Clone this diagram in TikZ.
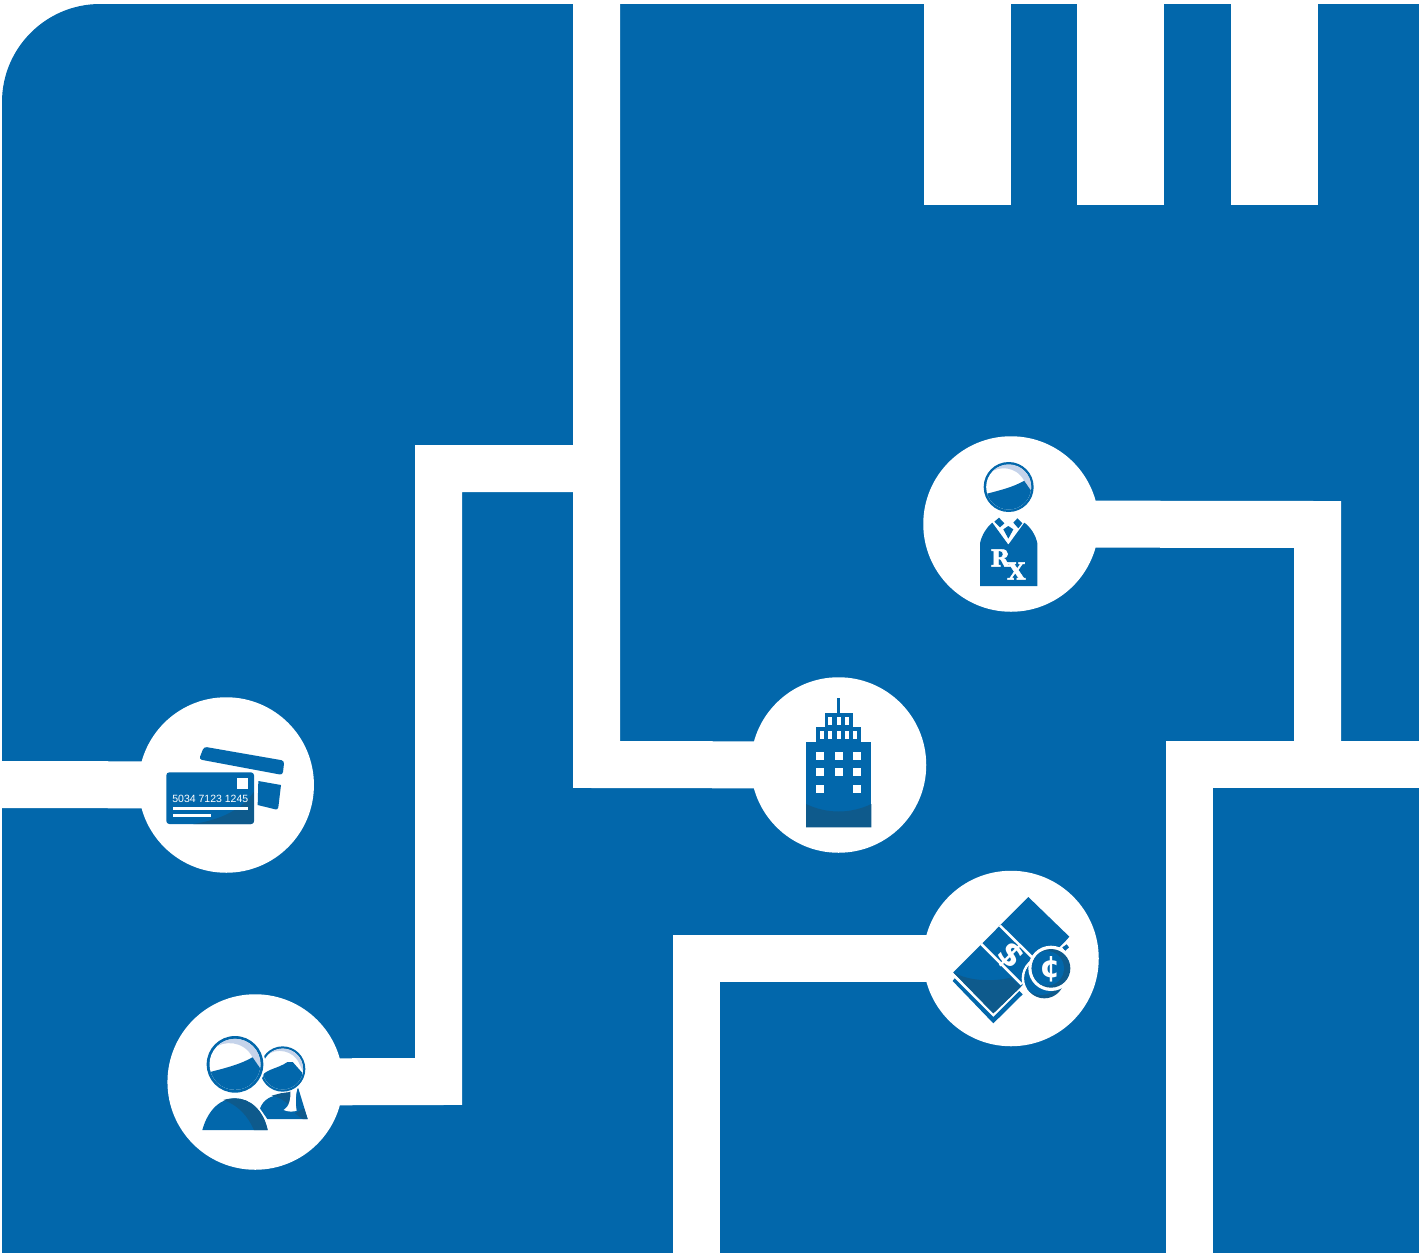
\documentclass[tikz,border=0pt]{standalone}
\usepackage{fontspec}
\setmainfont{Liberation Sans}
\newfontfamily\slabfont[BoldFeatures={FakeBold=2}]{DejaVu Serif}
\newfontfamily\heavyfont{DejaVu Sans}
\definecolor{brandblue}{HTML}{0267AB}
\definecolor{deepblue}{HTML}{0E5A8C}
\definecolor{paleblue}{HTML}{C5D3EA}
\tikzset{
  wire/.style={draw=white,line width=47pt,line join=miter,line cap=butt,shorten >=-8pt},
  wireout/.style={draw=white,line width=47pt,line join=miter,line cap=butt,shorten <=-8pt},
  plainwire/.style={draw=white,line width=47pt,line join=miter,line cap=butt},
  hub/.style={circle,fill=white,inner sep=0pt,outer sep=0pt,minimum size=175.5pt},
  tab/.style={rectangle,fill=white,inner sep=0pt,outer sep=0pt,minimum width=87pt,minimum height=201pt},
  ink/.style={fill=brandblue,draw=none},
  inkdark/.style={fill=deepblue,draw=none},
  gap/.style={fill=white,draw=none},
}
% head drawn in a unit of radius 100; hair boundary is shared
\newcommand{\headart}{%
  \fill[brandblue] (0,0) circle (100);
  \begin{scope}
    \clip (0,0) circle (90);
    \fill[white] (-100,-100) rectangle (100,100);
    \fill[paleblue] (-76,-56) .. controls (-40,-85) and (30,-85) .. (62,-25) -- (100,30) -- (100,-100) -- (-76,-100) -- cycle;
    \fill[brandblue] (-100,30) .. controls (-40,15) and (20,0) .. (62,-25) -- (100,30) -- (100,100) -- (-100,100) -- cycle;
  \end{scope}}
\begin{document}
\begin{tikzpicture}[x=1pt,y=-1pt]
\useasboundingbox (0,0) rectangle (1419,1253);
% panel
\fill[brandblue] (2,1253) -- (2,102) .. controls (2,48) and (46,4) .. (100,4) -- (1419,4) -- (1419,1253) -- cycle;
% top tabs
\node[tab,anchor=north west] (tabA) at (924,4) {};
\node[tab,anchor=north west] (tabB) at (1077,4) {};
\node[tab,anchor=north west] (tabC) at (1231,4) {};
% hubs
\node[hub] (card) at (226.2,785) {};
\node[hub] (people) at (255.2,1082) {};
\node[hub] (rx) at (1011,524) {};
\node[hub] (tower) at (838.5,765) {};
\node[hub] (money) at (1011,958.5) {};
% free ends and bends
\coordinate (topEnd) at (596.5,4);
\coordinate (trunkBend) at (596.5,764.5);
\coordinate (branchStart) at (596.5,468.5);
\coordinate (branchA) at (438.5,468.5);
\coordinate (branchB) at (438.5,1081.5);
\coordinate (leftEnd) at (0,784.5);
\coordinate (rxBend) at (1317.5,524.5);
\coordinate (rxJoin) at (1317.5,764.5);
\coordinate (rightEnd) at (1419,764.5);
\coordinate (busBend) at (1189,764.5);
\coordinate (busEnd) at (1189,1253);
\coordinate (moneyBend) at (696.5,958.5);
\coordinate (moneyEnd) at (696.5,1253);
% connectors
\draw[wire] (leftEnd) -- (card);
\draw[wire] (topEnd) -- (trunkBend) -- (tower);
\draw[wire] (branchStart) -- (branchA) -- (branchB) -- (people);
\draw[wireout] (rx) -- (rxBend) -- (rxJoin);
\draw[plainwire] (rightEnd) -- (busBend) -- (busEnd);
\draw[wire] (moneyEnd) -- (moneyBend) -- (money);

% ---------- credit cards
\begin{scope}[shift={(130,720)},scale=1/3]
  \fill[ink,rounded corners=3pt] (222,80) -- (463,122) -- (458,165) -- (207,118) -- cycle;
  \fill[ink] (385,183) -- (453,195) -- (445,262) .. controls (444,268) and (440,269) .. (436,268) -- (383,255) -- cycle;
  \fill[ink,rounded corners=3pt] (109,157) rectangle (372,312);
  \begin{scope}
    \clip[rounded corners=3pt] (109,157) rectangle (372,312);
    \fill[inkdark] (190,312) .. controls (270,300) and (335,270) .. (372,215) -- (372,312) -- cycle;
  \end{scope}
  \fill[gap] (321,174) rectangle (354,207);
  \fill[gap] (129,261) rectangle (354,270);
  \fill[gap] (129,282) rectangle (243,291);
\end{scope}
\node[text=white,font=\fontsize{10.5}{12}\selectfont,inner sep=0pt] (cardnum) at (210.3,798.5) {5034 7123 1245};

% ---------- couple
\begin{scope}[shift={(180,1020)},scale=1/3]
  % woman
  \fill[ink] (240,265) .. controls (250,240) and (270,227) .. (300,225) -- (355,205) -- (383,297) -- (262,297) -- cycle;
  \fill[inkdark] (275,227) .. controls (300,232) and (318,245) .. (330,258) -- (345,215) -- (320,215) -- cycle;
  \fill[inkdark] (345,280) -- (372,265) -- (383,297) -- (368,297) -- cycle;
  \fill[gap] (330,205) .. controls (335,240) and (325,262) .. (311,270) .. controls (325,276) and (340,276) .. (350,272) .. controls (345,250) and (347,225) .. (352,205) -- cycle;
  \begin{scope}[shift={(308,147)},scale=0.68]
    \fill[white] (0,0) circle (105);
    \fill[brandblue] (0,0) circle (100);
    \begin{scope}
      \clip (0,0) circle (90);
      \fill[white] (-100,-100) rectangle (100,100);
      \fill[paleblue] (-70,-60) .. controls (-30,-95) and (50,-85) .. (75,-20) -- (100,30) -- (100,-100) -- (-70,-100) -- cycle;
      \fill[brandblue] (-100,35) .. controls (-60,-5) and (-25,0) .. (20,-30) -- (45,-30) -- (85,15) -- (100,100) -- (-100,100) -- cycle;
    \end{scope}
  \end{scope}
  % man
  \fill[ink] (67,330) .. controls (85,265) and (125,235) .. (165,235) .. controls (210,235) and (250,270) .. (263,330) -- cycle;
  \fill[inkdark] (130,240) .. controls (175,255) and (205,290) .. (222,330) -- (263,330) .. controls (250,270) and (210,235) .. (165,235) .. controls (152,235) and (140,237) .. (130,240) -- cycle;
  \fill[white] (165,133) circle (91);
  \begin{scope}[shift={(165,133)},scale=0.85]
    \headart
  \end{scope}
\end{scope}

% ---------- pharmacist
\begin{scope}[shift={(940,450)},scale=1/3]
  \begin{scope}[shift={(206,111)},scale=0.75]
    \headart
  \end{scope}
  \fill[ink] (120,408) -- (120,280) .. controls (125,255) and (140,232) .. (157,218) -- (205,284) -- (253,218) .. controls (272,232) and (287,255) .. (292,280) -- (292,408) -- cycle;
  \fill[ink] (163,215) -- (177,203) -- (193,220) -- (180,232) -- cycle;
  \fill[ink] (220,218) -- (232,205) -- (247,220) -- (235,235) -- cycle;
  \fill[ink] (190,238) -- (205,228) -- (220,238) -- (205,266) -- cycle;
  \node[text=white,font=\slabfont\bfseries\fontsize{23.5}{25}\selectfont,inner sep=0pt] (rxR) at (181,324) {R};
  \node[text=white,font=\slabfont\bfseries\fontsize{23.5}{25}\selectfont,inner sep=0pt] (rxX) at (229,363) {X};
\end{scope}

% ---------- tower
\begin{scope}[shift={(780,690)},scale=1/3]
  \fill[ink] (171,24) rectangle (181,68);
  \fill[ink] (134,68) rectangle (218,110);
  \fill[ink] (108,110) rectangle (244,156);
  \fill[ink] (78,156) rectangle (274,412);
  \fill[inkdark] (78,342) .. controls (140,372) and (212,372) .. (274,342) -- (274,412) -- (78,412) -- cycle;
  \foreach \wx in {144,170,195} \fill[gap] (\wx,81) rectangle ++(13,23);
  \foreach \wx in {120,144,170,195,219} \fill[gap] (\wx,123) rectangle ++(13,24);
  \foreach \wx in {108,164,219} \foreach \wy in {186,234} \fill[gap] (\wx,\wy) rectangle ++(24,23);
  \foreach \wx in {108,219} \fill[gap] (\wx,285) rectangle ++(24,24);
\end{scope}

% ---------- money
\begin{scope}[shift={(940,885)},scale=1/3]
  % under sheet
  \fill[ink] (38,288) -- (160,415) -- (248,328) -- (238,318) -- (160,396) -- (44,280) -- cycle;
  % bill
  \fill[ink] (265,36) -- (388,155) -- (375,170) -- (300,245) -- (243,305) -- (160,385) -- (40,262) -- cycle;
  \fill[inkdark] (40,262) .. controls (90,290) and (160,290) .. (213,278) -- (243,305) -- (160,385) -- cycle;
  \draw[white,line width=2.6pt] (180,122) -- (305,245);
  \draw[white,line width=2.6pt] (124,177) -- (245,298);
  \fill[ink] (367,187) -- (380,178) -- (387,187) -- (375,198) -- cycle;
  \node[text=white,font=\heavyfont\bfseries\fontsize{33}{35}\selectfont,rotate=-45,inner sep=0pt] (dollar) at (212,212) {\$};
  % coins
  \fill[white] (313,280) circle (68);
  \fill[inkdark] (313,280) circle (60);
  \begin{scope}
    \clip (313,280) circle (60);
    \fill[ink] (303,268) circle (62);
  \end{scope}
  \fill[white] (333,250) circle (68);
  \fill[inkdark] (333,250) circle (58);
  \begin{scope}
    \clip (333,250) circle (58);
    \fill[ink] (320,250) circle (52);
  \end{scope}
  \node[text=white,font=\heavyfont\bfseries\fontsize{30}{32}\selectfont,inner sep=0pt] (cent) at (330,254) {¢};
\end{scope}
\end{tikzpicture}
\end{document}
